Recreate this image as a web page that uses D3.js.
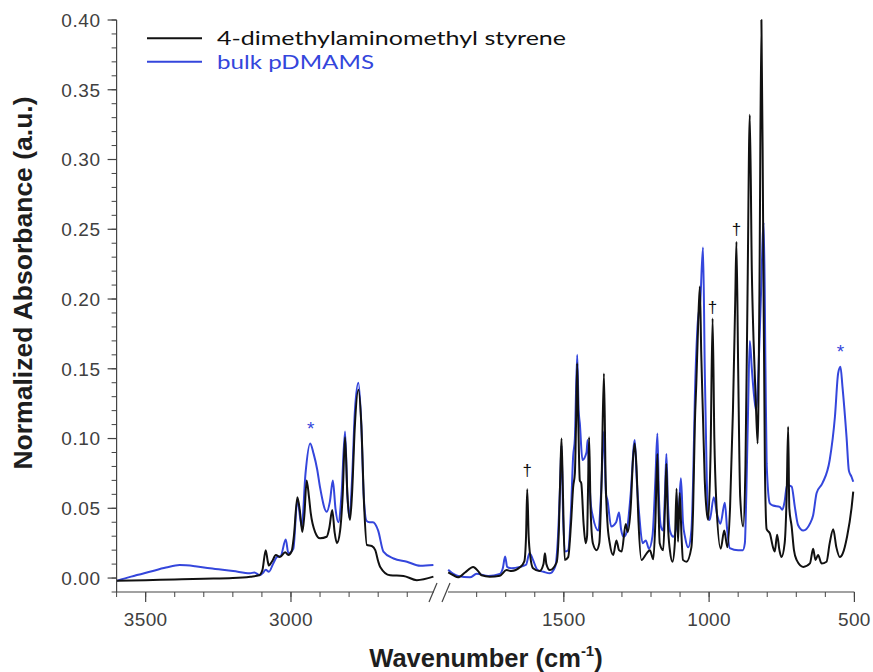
<!DOCTYPE html>
<html>
<head>
<meta charset="utf-8">
<script src="https://cdn.jsdelivr.net/npm/d3@7"></script>
<style>
  html, body { margin: 0; padding: 0; background: #ffffff; }
  svg { display: block; }
</style>
</head>
<body>
<svg id="chart" width="873" height="672"></svg>
<script>
// ---------------- DATA ----------------
const seriesNames = ["4-dimethylaminomethyl styrene", "bulk pDMAMS"];

// monomer (black) – high wavenumber segment [cm-1, absorbance]
const monomerHigh = [
  [3600,-0.002],[3500,-0.0015],[3400,-0.001],[3300,-0.0005],[3200,0.0],[3140,0.001],[3110,0.002],
  [3098,0.006],[3087,0.020],[3080,0.012],[3076,0.009],[3065,0.012],[3052,0.0165],[3038,0.015],
  [3020,0.0185],[3009,0.0165],[2998,0.019],[2990,0.030],[2978,0.058],[2969,0.0475],[2961,0.033],
  [2954,0.045],[2946,0.070],[2938,0.058],[2932,0.0465],[2917,0.033],[2900,0.0285],[2877,0.0296],
  [2868,0.036],[2858,0.0487],[2850,0.033],[2842,0.025],[2831,0.034],[2822,0.060],[2814,0.101],
  [2806,0.060],[2797,0.0416],[2790,0.060],[2780,0.110],[2768,0.135],[2758,0.110],[2748,0.050],
  [2739,0.0237],[2722,0.023],[2710,0.020],[2700,0.012],[2693,0.008],[2659,0.002],[2613,0.0015],
  [2567,-0.0015],[2510,0.001]
];
// polymer (blue) – high wavenumber segment
const polymerHigh = [
  [3600,-0.002],[3550,0.001],[3486,0.0045],[3430,0.0075],[3383,0.0093],[3330,0.0085],[3279,0.007],
  [3199,0.005],[3141,0.0034],[3126,0.004],[3107,0.002],[3095,0.004],[3087,0.006],[3076,0.0045],
  [3062,0.010],[3049,0.015],[3035,0.016],[3018,0.0277],[3009,0.0177],[2992,0.021],[2978,0.056],
  [2963,0.037],[2950,0.075],[2934,0.0965],[2922,0.089],[2910,0.078],[2900,0.065],[2877,0.0475],
  [2866,0.055],[2856,0.070],[2847,0.050],[2837,0.040],[2826,0.060],[2814,0.105],[2806,0.060],
  [2799,0.043],[2790,0.070],[2780,0.120],[2768,0.140],[2758,0.110],[2750,0.060],[2740,0.041],
  [2730,0.040],[2718,0.040],[2700,0.034],[2682,0.019],[2647,0.014],[2601,0.0117],[2555,0.0088],
  [2510,0.0093]
];
// monomer (black) – fingerprint segment
const monomerLow = [
  [1898,0.004],[1880,0.002],[1864,0.0005],[1840,0.004],[1812,0.008],[1795,0.005],[1783,0.002],
  [1755,0.001],[1720,0.0017],[1697,0.0057],[1680,0.005],[1651,0.0077],[1636,0.012],[1630,0.030],
  [1626,0.0636],[1621,0.030],[1615,0.015],[1606,0.007],[1583,0.005],[1570,0.010],[1565,0.0177],
  [1560,0.010],[1548,0.0057],[1525,0.011],[1517,0.035],[1512,0.075],[1508,0.100],[1503,0.060],
  [1497,0.013],[1485,0.015],[1475,0.040],[1468,0.065],[1462,0.075],[1458,0.110],[1454,0.154],
  [1450,0.110],[1445,0.070],[1440,0.068],[1432,0.039],[1425,0.025],[1420,0.030],[1417,0.060],
  [1413,0.101],[1408,0.050],[1400,0.025],[1387,0.020],[1378,0.025],[1370,0.070],[1362,0.1467],
  [1356,0.070],[1350,0.040],[1342,0.025],[1330,0.0165],[1319,0.027],[1310,0.020],[1301,0.019],
  [1287,0.0387],[1280,0.033],[1270,0.050],[1262,0.085],[1256,0.0965],[1250,0.080],[1243,0.040],
  [1233,0.013],[1215,0.0177],[1204,0.020],[1192,0.0134],[1185,0.040],[1178,0.089],[1174,0.050],
  [1170,0.025],[1158,0.020],[1152,0.050],[1147,0.082],[1142,0.040],[1135,0.020],[1126,0.0117],
  [1118,0.025],[1112,0.064],[1107,0.026],[1101,0.061],[1095,0.030],[1090,0.013],[1078,0.0117],
  [1061,0.022],[1055,0.050],[1049,0.111],[1044,0.140],[1038,0.180],[1032,0.209],[1027,0.160],
  [1021,0.115],[1015,0.070],[1009,0.049],[1003,0.0416],[995,0.090],[988,0.186],[982,0.100],
  [976,0.058],[960,0.021],[948,0.034],[937,0.022],[928,0.050],[918,0.120],[910,0.200],[906,0.241],
  [900,0.150],[893,0.058],[883,0.037],[875,0.080],[868,0.200],[860,0.332],[853,0.220],[847,0.170],
  [840,0.130],[833,0.0965],[827,0.200],[820,0.400],[814,0.250],[808,0.080],[802,0.035],[791,0.032],
  [780,0.022],[774,0.019],[766,0.031],[758,0.020],[751,0.015],[740,0.025],[733,0.060],[728,0.1085],
  [724,0.050],[716,0.037],[708,0.020],[699,0.013],[676,0.008],[653,0.0105],[642,0.021],[634,0.013],
  [625,0.0165],[613,0.0105],[596,0.0117],[585,0.025],[573,0.035],[562,0.022],[550,0.015],
  [540,0.0177],[525,0.030],[510,0.050],[504,0.062]
];
// polymer (blue) – fingerprint segment
const polymerLow = [
  [1898,0.006],[1880,0.003],[1864,0.0015],[1823,0.0005],[1800,0.003],[1760,0.0015],[1720,0.003],
  [1710,0.007],[1702,0.0155],[1695,0.008],[1680,0.007],[1651,0.008],[1630,0.0095],[1618,0.018],
  [1612,0.016],[1606,0.013],[1590,0.0057],[1570,0.0045],[1548,0.0034],[1530,0.008],[1520,0.030],
  [1512,0.072],[1508,0.095],[1502,0.040],[1494,0.019],[1485,0.020],[1475,0.050],[1468,0.087],
  [1462,0.100],[1454,0.160],[1449,0.120],[1445,0.111],[1436,0.0846],[1422,0.090],[1418,0.099],
  [1413,0.075],[1408,0.055],[1400,0.044],[1381,0.034],[1372,0.060],[1362,0.105],[1355,0.060],
  [1350,0.056],[1337,0.037],[1320,0.040],[1310,0.047],[1303,0.035],[1294,0.0296],[1285,0.032],
  [1270,0.060],[1256,0.099],[1249,0.070],[1240,0.044],[1229,0.025],[1218,0.027],[1207,0.021],
  [1195,0.030],[1185,0.070],[1178,0.1037],[1173,0.060],[1166,0.037],[1158,0.034],[1152,0.060],
  [1147,0.089],[1142,0.055],[1135,0.034],[1123,0.0296],[1110,0.040],[1104,0.050],[1097,0.0715],
  [1090,0.040],[1083,0.0296],[1072,0.022],[1061,0.034],[1055,0.070],[1049,0.130],[1040,0.180],
  [1030,0.200],[1021,0.237],[1015,0.150],[1008,0.070],[1003,0.045],[998,0.0416],[984,0.058],
  [972,0.045],[961,0.039],[946,0.054],[938,0.035],[929,0.0215],[900,0.020],[884,0.020],[877,0.025],
  [872,0.060],[866,0.120],[860,0.170],[853,0.150],[845,0.130],[838,0.120],[830,0.150],[822,0.200],
  [812,0.255],[806,0.150],[802,0.082],[791,0.0535],[780,0.052],[757,0.051],[748,0.049],[740,0.055],
  [732,0.0667],[716,0.0655],[705,0.051],[694,0.038],[676,0.034],[653,0.039],[642,0.045],[630,0.061],
  [610,0.068],[585,0.0846],[567,0.1156],[556,0.1467],[548,0.1515],[541,0.137],[527,0.101],
  [519,0.077],[510,0.0726],[504,0.069]
];

const yTickValues = [0, 0.05, 0.10, 0.15, 0.20, 0.25, 0.30, 0.35, 0.40];
const yTickLabels = ["0.00","0.05","0.10","0.15","0.20","0.25","0.30","0.35","0.40"];
const xHighTicks = [3500, 3000];
const xLowTicks = [1500, 1000, 500];
const xHighLabels = ["3500", "3000"];
const xLowLabels = ["1500", "1000", "500"];

// annotations: [cm-1, absorbance of marked peak, symbol, series index]
const marks = [
  [2932, 0.0965, "*", 1],
  [548, 0.1515, "*", 1],
  [1626, 0.0636, "\u2020", 0],
  [988, 0.186, "\u2020", 0],
  [906, 0.241, "\u2020", 0]
];

// ---------------- DRAW ----------------
const colors = ["#111111", "#3446dc"];
const axisColor = "#444444";
const markGap = [8, 9, 13, 6, 7];   // pixel gap between peak and its symbol
const svg = d3.select("#chart");

const y = d3.scaleLinear().domain([-0.01, 0.40]).range([592, 20]);
const xHigh = d3.scaleLinear().domain([3600, 2500]).range([116.6, 436.3]);
const xLow = d3.scaleLinear().domain([1900, 500]).range([447.6, 854.4]);

const gPlot = svg.append("g");
function drawLine(data, xs, color) {
  const line = d3.line().x(d => xs(d[0])).y(d => y(d[1])).curve(d3.curveMonotoneX);
  gPlot.append("path").datum(data)
    .attr("d", line).attr("fill", "none")
    .attr("stroke", color).attr("stroke-width", 2)
    .attr("stroke-linejoin", "round");
}
drawLine(polymerHigh, xHigh, colors[1]);
drawLine(polymerLow, xLow, colors[1]);
drawLine(monomerHigh, xHigh, colors[0]);
drawLine(monomerLow, xLow, colors[0]);

// Y axis
const yAxisX = 116.6;
const gy = svg.append("g").attr("transform", `translate(${yAxisX},0)`);
gy.append("line").attr("x1",0).attr("x2",0).attr("y1",y(0.40)).attr("y2",y(-0.01))
  .attr("stroke", axisColor).attr("stroke-width", 1.2);
const yMinor = d3.range(-0.01, 0.4001, 0.01).map(v => +v.toFixed(3));
gy.selectAll(".ymin").data(yMinor).join("line")
  .attr("x1",-5).attr("x2",0).attr("y1",d=>y(d)).attr("y2",d=>y(d))
  .attr("stroke", axisColor).attr("stroke-width",1);
gy.selectAll(".ymaj").data(yTickValues).join("line")
  .attr("x1",-9).attr("x2",0).attr("y1",d=>y(d)).attr("y2",d=>y(d))
  .attr("stroke", axisColor).attr("stroke-width",1.2);
gy.selectAll(".ylab").data(yTickValues).join("text")
  .attr("x",-16).attr("y",d=>y(d)).attr("dy","0.36em")
  .attr("text-anchor","end")
  .attr("font-family","'Liberation Sans', Arial, sans-serif")
  .attr("font-size",19).attr("fill","#404040")
  .attr("letter-spacing", 0.6)
  .text((d,i)=>yTickLabels[i]);

// X axes
const axisY = y(-0.01);
const gx = svg.append("g");
gx.append("line").attr("x1", xHigh(3600)).attr("x2", 434).attr("y1", axisY).attr("y2", axisY)
  .attr("stroke", axisColor).attr("stroke-width", 1.2);
gx.append("line").attr("x1", 448).attr("x2", xLow(500)).attr("y1", axisY).attr("y2", axisY)
  .attr("stroke", axisColor).attr("stroke-width", 1.2);
const highMinor = d3.range(3600, 2599, -100);
const lowMinor = d3.range(1800, 499, -100);
gx.selectAll(".hmin").data(highMinor).join("line")
  .attr("x1",d=>xHigh(d)).attr("x2",d=>xHigh(d)).attr("y1",axisY).attr("y2",axisY+5)
  .attr("stroke", axisColor).attr("stroke-width",1);
gx.selectAll(".lmin").data(lowMinor).join("line")
  .attr("x1",d=>xLow(d)).attr("x2",d=>xLow(d)).attr("y1",axisY).attr("y2",axisY+5)
  .attr("stroke", axisColor).attr("stroke-width",1);
gx.selectAll(".hmaj").data(xHighTicks).join("line")
  .attr("x1",d=>xHigh(d)).attr("x2",d=>xHigh(d)).attr("y1",axisY).attr("y2",axisY+10)
  .attr("stroke", axisColor).attr("stroke-width",1.2);
gx.selectAll(".lmaj").data(xLowTicks).join("line")
  .attr("x1",d=>xLow(d)).attr("x2",d=>xLow(d)).attr("y1",axisY).attr("y2",axisY+10)
  .attr("stroke", axisColor).attr("stroke-width",1.2);
const labFont = {fam:"'Liberation Sans', Arial, sans-serif", size:19};
gx.selectAll(".hlab").data(xHighTicks).join("text")
  .attr("x",d=>xHigh(d)).attr("y",626).attr("text-anchor","middle")
  .attr("font-family",labFont.fam).attr("font-size",labFont.size).attr("fill","#404040")
  .attr("letter-spacing", 0.4)
  .text((d,i)=>xHighLabels[i]);
gx.selectAll(".llab").data(xLowTicks).join("text")
  .attr("x",d=>xLow(d)).attr("y",626).attr("text-anchor","middle")
  .attr("font-family",labFont.fam).attr("font-size",labFont.size).attr("fill","#404040")
  .attr("letter-spacing", 0.4)
  .text((d,i)=>xLowLabels[i]);

// axis break marks
[[429,602,437,583],[442,602,450,583]].forEach(s => {
  gx.append("line").attr("x1",s[0]).attr("y1",s[1]).attr("x2",s[2]).attr("y2",s[3])
    .attr("stroke", axisColor).attr("stroke-width",1.2);
});

// Axis titles
svg.append("text")
  .attr("transform","translate(32,283) rotate(-90)")
  .attr("text-anchor","middle")
  .attr("font-family","'Liberation Sans', Arial, sans-serif")
  .attr("font-weight","bold").attr("font-size",26.5).attr("fill","#1e1e1e")
  .text("Normalized Absorbance (a.u.)");
const xt = svg.append("text")
  .attr("x",486).attr("y",667).attr("text-anchor","middle")
  .attr("font-family","'Liberation Sans', Arial, sans-serif")
  .attr("font-weight","bold").attr("font-size",25.5).attr("fill","#1e1e1e");
xt.append("tspan").text("Wavenumber (cm");
xt.append("tspan").attr("font-size",15).attr("dy",-11).text("-1");
xt.append("tspan").attr("dy",11).text(")");

// Annotations
marks.forEach((m, i) => {
  const xs = m[0] > 2000 ? xHigh : xLow;
  const isStar = m[2] === "*";
  svg.append("text")
    .attr("x", xs(m[0]))
    .attr("y", y(m[1]) - markGap[i])
    .attr("text-anchor","middle")
    .attr("font-family","'Liberation Sans', Arial, sans-serif")
    .attr("font-size", isStar ? 19 : 17)
    .attr("fill", colors[m[3]])
    .text(m[2]);
});

// Legend
const legend = svg.append("g");
const legY = [38.3, 61.7];
const legWidth = [349, 157];
seriesNames.forEach((name, i) => {
  legend.append("line").attr("x1",147).attr("x2",202).attr("y1",legY[i]).attr("y2",legY[i])
    .attr("stroke", colors[i]).attr("stroke-width",2);
  legend.append("text").attr("x",217).attr("y",legY[i]+7)
    .attr("font-family","Lato, 'Open Sans', sans-serif")
    .attr("font-size",19.5).attr("fill", i===0 ? "#111111" : colors[1])
    .attr("textLength", legWidth[i]).attr("lengthAdjust","spacingAndGlyphs")
    .text(name);
});
</script>
</body>
</html>
